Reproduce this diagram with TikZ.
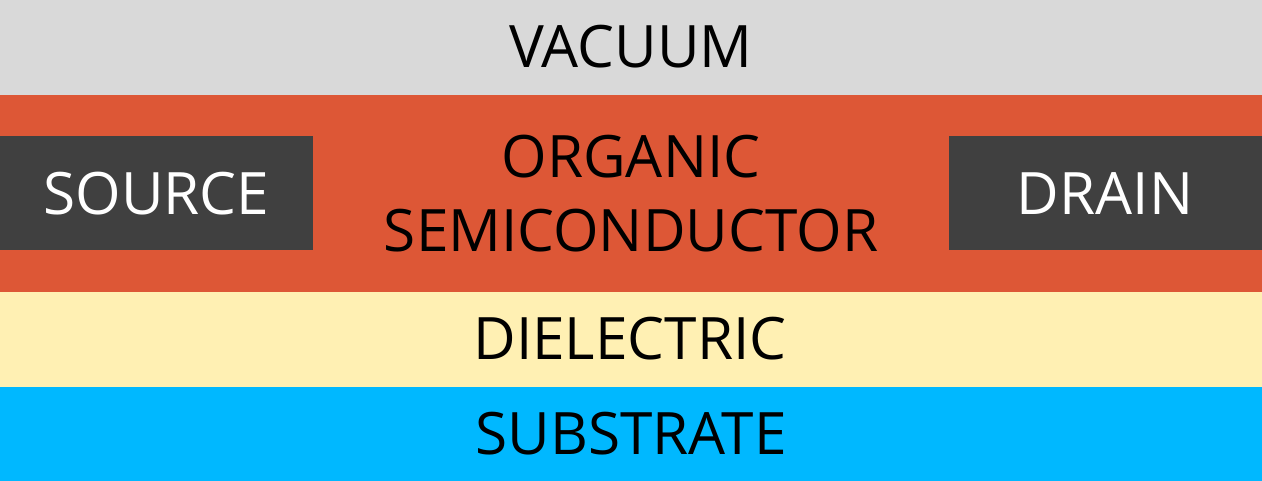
\documentclass[tikz,border=0pt]{standalone}
\usepackage{fontspec}
\setmainfont{Open Sans}
\definecolor{vacgray}{HTML}{D9D9D9}
\definecolor{orgred}{HTML}{DD5736}
\definecolor{elecgray}{HTML}{404040}
\definecolor{dielyellow}{HTML}{FFF0B3}
\definecolor{subblue}{HTML}{00B8FF}
\tikzset{
  lbl/.style={inner sep=0pt, outer sep=0pt, font=\fontsize{58.5}{74}\selectfont, text=black, align=center},
  elbl/.style={lbl, text=white},
}
\begin{document}
\begin{tikzpicture}[x=1pt,y=-1pt]
\useasboundingbox (0,0) rectangle (1262,481);
\fill[vacgray] (0,0) rectangle (1262,95);
\fill[orgred] (0,95) rectangle (1262,292);
\fill[dielyellow] (0,292) rectangle (1262,387);
\fill[subblue] (0,387) rectangle (1262,481);
\fill[elecgray] (0,136) rectangle (313,250);
\fill[elecgray] (949,136) rectangle (1262,250);
\node[lbl] (vacuum) at (631,47) {VACUUM};
\node[lbl] (organic) at (631,193.5) {ORGANIC\\SEMICONDUCTOR};
\node[elbl] (source) at (156.5,193.3) {SOURCE};
\node[elbl] (drain) at (1105,193.3) {DRAIN};
\node[lbl] (dielectric) at (630,339) {DIELECTRIC};
\node[lbl] (substrate) at (631,433.5) {SUBSTRATE};
\end{tikzpicture}
\end{document}
